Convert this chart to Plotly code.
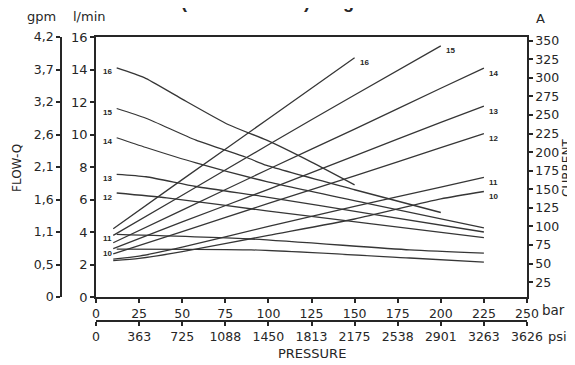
import plotly.graph_objects as go

# flow curves (bar -> l/min), one per motor size
flow_16_bar = [12, 28, 48, 77, 99, 125, 150]
flow_16_lpm = [14.1, 13.5, 12.3, 10.6, 9.65, 8.3, 6.9]
flow_15_bar = [12, 29, 58, 87, 99, 150, 200]
flow_15_lpm = [11.6, 11.0, 9.65, 8.6, 8.1, 6.6, 5.2]
flow_14_bar = [12, 29, 58, 99, 160, 225]
flow_14_lpm = [9.8, 9.2, 8.25, 7.1, 5.7, 4.25]
flow_13_bar = [12, 29, 58, 99, 160, 225]
flow_13_lpm = [7.55, 7.4, 6.8, 6.15, 5.1, 4.0]
flow_12_bar = [12, 41, 99, 160, 225]
flow_12_lpm = [6.4, 6.1, 5.3, 4.5, 3.65]
flow_11_bar = [12, 90, 182, 225]
flow_11_lpm = [3.85, 3.57, 2.9, 2.7]
flow_10_bar = [12, 90, 182, 225]
flow_10_lpm = [2.95, 2.9, 2.4, 2.15]

# current curves (bar -> A)
cur_16_bar = [10, 50, 100, 150]
cur_16_amp = [97, 163, 245, 327]
cur_15_bar = [10, 50, 100, 150, 200]
cur_15_amp = [88, 142, 210, 277, 343]
cur_14_bar = [10, 50, 100, 150, 200, 225]
cur_14_amp = [78, 122, 177, 231, 286, 313]
cur_13_bar = [10, 50, 100, 150, 200, 225]
cur_13_amp = [70, 106, 150, 195, 240, 262]
cur_12_bar = [10, 50, 100, 150, 200, 225]
cur_12_amp = [63, 93, 131, 168, 206, 225]
cur_11_bar = [10, 25, 50, 100, 150, 200, 225]
cur_11_amp = [56, 60, 72, 100, 127, 153, 166]
cur_10_bar = [10, 25, 50, 100, 150, 200, 225]
cur_10_amp = [54, 57, 66, 88, 110, 137, 147]

flow_curves = {
    "16": (flow_16_bar, flow_16_lpm),
    "15": (flow_15_bar, flow_15_lpm),
    "14": (flow_14_bar, flow_14_lpm),
    "13": (flow_13_bar, flow_13_lpm),
    "12": (flow_12_bar, flow_12_lpm),
    "11": (flow_11_bar, flow_11_lpm),
    "10": (flow_10_bar, flow_10_lpm),
}
current_curves = {
    "16": (cur_16_bar, cur_16_amp),
    "15": (cur_15_bar, cur_15_amp),
    "14": (cur_14_bar, cur_14_amp),
    "13": (cur_13_bar, cur_13_amp),
    "12": (cur_12_bar, cur_12_amp),
    "11": (cur_11_bar, cur_11_amp),
    "10": (cur_10_bar, cur_10_amp),
}

bar_ticks = [0, 25, 50, 75, 100, 125, 150, 175, 200, 225, 250]
psi_ticks = [0, 363, 725, 1088, 1450, 1813, 2175, 2538, 2901, 3263, 3626]
lpm_ticks = [0, 2, 4, 6, 8, 10, 12, 14, 16]
gpm_labels = ["0", "0,5", "1,1", "1,6", "2,1", "2,6", "3,2", "3,7", "4,2"]
amp_ticks = [25, 50, 75, 100, 125, 150, 175, 200, 225, 250, 275, 300, 325, 350]

# the page body adds an 8px offset, so the figure is drawn 8px smaller
OFF = 8
W, H = 575 - OFF, 365 - OFF
ML, MR, MT, MB = 40 - OFF, 48, 37 - OFF, 20 - OFF
PW, PH = W - ML - MR, H - MT - MB


def px(x, y):
    """screen pixel position (as in the reference) -> paper coords"""
    return (x - OFF - ML) / PW, (H - MB - (y - OFF)) / PH


INK = "#262626"
LINE = "#363636"
FONT = "DejaVu Sans"
LABEL_FONT = "Liberation Sans"

fig = go.Figure()

for name, (xs, ys) in flow_curves.items():
    fig.add_trace(go.Scatter(x=xs, y=ys, mode="lines", line=dict(color=LINE, width=1.3, shape="spline", smoothing=0.6),
                             xaxis="x", yaxis="y", showlegend=False, hoverinfo="skip"))
    fig.add_annotation(x=xs[0], y=ys[0], xref="x", yref="y", text="<b>%s</b>" % name, showarrow=False,
                       xshift=-9, yshift=-4, font=dict(size=8, color=INK, family=LABEL_FONT))

for name, (xs, ys) in current_curves.items():
    fig.add_trace(go.Scatter(x=xs, y=ys, mode="lines", line=dict(color=LINE, width=1.3, shape="spline", smoothing=0.6),
                             xaxis="x", yaxis="y2", showlegend=False, hoverinfo="skip"))
    fig.add_annotation(x=xs[-1], y=ys[-1], xref="x", yref="y2", text="<b>%s</b>" % name, showarrow=False,
                       xshift=10, yshift=-5, font=dict(size=8, color=INK, family=LABEL_FONT))

# invisible trace so the psi and gpm axes get drawn
fig.add_trace(go.Scatter(x=[psi_ticks[0], psi_ticks[-1]], y=[lpm_ticks[0], lpm_ticks[-1]], mode="markers",
                         marker=dict(opacity=0), xaxis="x2", yaxis="y3", showlegend=False, hoverinfo="skip"))

x0 = px(96, 0)[0]
y0 = px(0, 297)[1]

axis_common = dict(showgrid=False, zeroline=False, showline=True, linecolor=INK, linewidth=1.5,
                   ticks="outside", ticklen=4, tickwidth=1.5, tickcolor=INK, automargin=False)

fig.update_layout(
    width=W, height=H,
    margin=dict(l=ML, r=MR, t=MT, b=MB, autoexpand=False),
    paper_bgcolor="white", plot_bgcolor="white",
    font=dict(family=FONT, color=INK, size=12),
    xaxis=dict(domain=[x0, 1], range=[0, 250], tickvals=bar_ticks, anchor="y", mirror=True,
               tickfont=dict(size=12.5), **axis_common),
    xaxis2=dict(overlaying="x", anchor="free", position=px(0, 321)[1], side="bottom", range=[0, 3626],
                tickvals=psi_ticks, ticktext=[str(v) for v in psi_ticks], tickfont=dict(size=12.5), **axis_common),
    yaxis=dict(domain=[y0, 1], range=[0, 16], tickvals=lpm_ticks, anchor="x", side="left",
               tickfont=dict(size=13), **axis_common),
    yaxis2=dict(overlaying="y", anchor="x", side="right", range=[5, 355], tickvals=amp_ticks,
                tickfont=dict(size=12.5), **axis_common),
    yaxis3=dict(overlaying="y", anchor="free", position=px(61, 0)[0], side="left", range=[0, 16],
                tickvals=lpm_ticks, ticktext=gpm_labels, tickfont=dict(size=12.5), **axis_common),
)

labels = [
    ("gpm", 41, 16, 13, 0),
    ("l/min", 89, 16, 13, 0),
    ("A", 540, 19, 13, 0),
    ("FLOW-Q", 17, 168, 12, -90),
    ("CURRENT", 567, 168, 12, -90),
    ("PRESSURE", 312, 353, 13, 0),
    ("bar", 553, 310, 13.5, 0),
    ("psi", 557, 336, 13, 0),
]
for text, lx, ly, size, angle in labels:
    ax, ay = px(lx, ly)
    fig.add_annotation(x=ax, y=ay, xref="paper", yref="paper", xanchor="center", yanchor="middle",
                       text=text, showarrow=False, textangle=angle,
                       font=dict(size=size, color=INK, family=FONT))

# page heading, cut off by the top edge as in the scan
tx, ty = px(218, 14)
fig.add_annotation(x=tx, y=ty, xref="paper", yref="paper", xanchor="center", yanchor="bottom",
                   text="<b>Armature motor (12V \u2014 1600W) Diagrams</b>", showarrow=False,
                   font=dict(size=18, color=INK, family=LABEL_FONT))

fig.write_html("out.html")
